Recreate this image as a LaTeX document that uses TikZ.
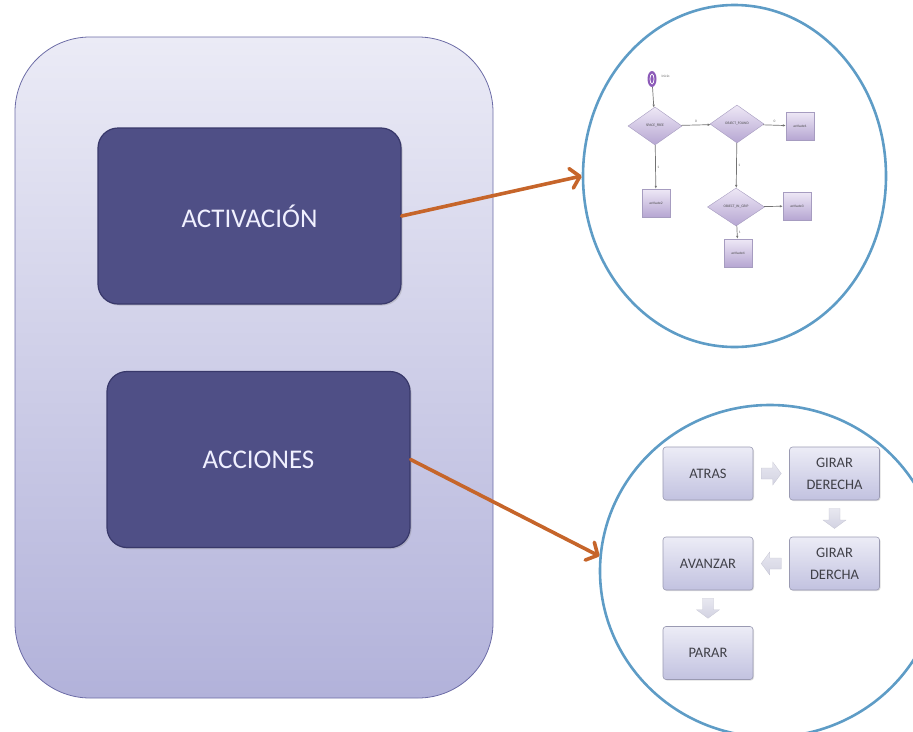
\documentclass[tikz,border=0pt]{standalone}
\usepackage{fontspec}
\setmainfont{Carlito}
\usetikzlibrary{arrows.meta,shapes.geometric,shadows,calc}
\definecolor{outertop}{HTML}{EBEBF6}
\definecolor{outerbot}{HTML}{B2B2DA}
\definecolor{outerline}{HTML}{6C6CA6}
\definecolor{darkbox}{HTML}{4F4F86}
\definecolor{darkline}{HTML}{38386A}
\definecolor{orangearr}{HTML}{C6652A}
\definecolor{circblue}{HTML}{5E9CC6}
\definecolor{lavtop}{HTML}{ECECF6}
\definecolor{lavbot}{HTML}{C2C2E0}
\definecolor{lavline}{HTML}{9A9AB2}
\definecolor{fctop}{HTML}{EEE8F6}
\definecolor{fcbot}{HTML}{B6A6D2}
\definecolor{fcline}{HTML}{A69CC0}
\definecolor{startpur}{HTML}{8C5AB8}
\definecolor{blocktop}{HTML}{E8E8F0}
\definecolor{blockbot}{HTML}{D2D2E2}
\definecolor{txtgray}{HTML}{404048}
\tikzset{
  outerbox/.style={rectangle, rounded corners=75pt, draw=outerline, line width=0.8pt,
    top color=outertop, bottom color=outerbot, minimum width=478pt, minimum height=661pt, inner sep=0pt},
  darkbox/.style={rectangle, rounded corners=20pt, draw=darkline, line width=1.2pt, fill=darkbox,
    minimum width=303pt, minimum height=176pt, inner sep=0pt, text=white!94!blue, font=\fontsize{27}{32}\selectfont,
    drop shadow={shadow xshift=1.5pt, shadow yshift=-1.5pt, opacity=0.3}},
  bigcirc/.style={ellipse, draw=circblue, line width=2.6pt, inner sep=0pt},
  orangearrow/.style={draw=orangearr, line width=3.6pt, line cap=round, line join=round,
    -{Straight Barb[length=9pt,width=20pt,round]}},
  actbox/.style={rectangle, rounded corners=3pt, draw=lavline, line width=0.6pt,
    top color=lavtop, bottom color=lavbot, minimum width=90pt, minimum height=53pt, inner sep=1pt,
    align=center, text=txtgray, font=\fontsize{14.5}{22}\selectfont,
    drop shadow={shadow xshift=1pt, shadow yshift=-1pt, opacity=0.25}},
  blockarrowfill/.style={top color=blocktop, bottom color=blockbot, draw=blockbot!85!gray, line width=0.3pt},
  fcdiamond/.style={diamond, draw=fcline, line width=0.4pt, top color=fctop, bottom color=fcbot,
    minimum width=54pt, minimum height=38pt, inner sep=0pt, font=\fontsize{3.6}{4}\selectfont, text=black!70},
  fcbox/.style={rectangle, draw=fcline, line width=0.4pt, top color=fctop, bottom color=fcbot,
    minimum width=28pt, minimum height=28pt, inner sep=0pt, font=\fontsize{3.6}{4}\selectfont, text=black!70,
    drop shadow={shadow xshift=0.7pt, shadow yshift=-0.7pt, opacity=0.2}},
  fcline/.style={draw=black!55, line width=0.7pt, -{Latex[length=3pt,width=2.5pt]}},
  fclabel/.style={font=\fontsize{3.6}{4}\selectfont, text=black!60, inner sep=0.5pt}
}
\begin{document}
\begin{tikzpicture}[x=1pt,y=-1pt]
\useasboundingbox (0,0) rectangle (913,731);
% main panel
\node[outerbox] (outer) at (254,367.5) {};
\node[darkbox] (act) at (249.5,216) {ACTIVACIÓN};
\node[darkbox] (acc) at (258.5,459.5) {ACCIONES};
% circles
\node[bigcirc, minimum width=303pt, minimum height=342pt] (c1) at (734.5,176) {};
\node[bigcirc, minimum width=340pt, minimum height=332pt] (c2) at (770,571) {};
% arrows
\draw[orangearrow] (act.east) -- (c1.west);
\draw[orangearrow] (acc.east) -- (c2.175);
% small flowchart
\node[ellipse, fill=startpur, minimum width=9pt, minimum height=16pt, inner sep=0pt] (start) at (652,79) {};
\node[ellipse, draw=white, line width=0.7pt, minimum width=4pt, minimum height=10pt, inner sep=0pt] (startin) at (652,79) {};
\node[fclabel, anchor=west] (startlbl) at (661,76) {Inicio};
\node[fcdiamond] (d1) at (655,126) {SPACE\_FREE};
\node[fcdiamond] (d2) at (737,124) {OBJECT\_FOUND};
\node[fcdiamond, minimum width=57pt] (d3) at (736,207) {OBJECT\_IN\_GRIP};
\node[fcbox] (b1) at (800,126) {activate1};
\node[fcbox] (b2) at (656,203) {activate2};
\node[fcbox] (b3) at (797,206) {activate3};
\node[fcbox] (b4) at (738,253) {activate4};
\draw[fcline] (start) -- (d1);
\draw[fcline] (d1) -- node[fclabel, above=2pt] {0} (d2);
\draw[fcline] (d2) -- node[fclabel, above=2pt] {0} (b1);
\draw[fcline] (d1) -- node[fclabel, right=1pt] {1} (b2);
\draw[fcline] (d2) -- node[fclabel, right=1pt] {1} (d3);
\draw[fcline] (d3) -- (b3);
\draw[fcline] (d3) -- node[fclabel, right=1pt] {1} (b4);
% actions flow
\node[actbox] (atras) at (708,473.5) {ATRAS};
\node[actbox] (gd1) at (834.5,473.5) {GIRAR\\DERECHA};
\node[actbox] (gd2) at (834.5,563.5) {GIRAR\\DERCHA};
\node[actbox] (avanzar) at (708,563.5) {AVANZAR};
\node[actbox] (parar) at (708,653) {PARAR};
\coordinate (a1) at ($(atras.east)!0.5!(gd1.west)$);
\coordinate (a2) at ($(gd1.south)!0.5!(gd2.north)$);
\coordinate (a3) at ($(gd2.west)!0.5!(avanzar.east)$);
\coordinate (a4) at ($(avanzar.south)!0.5!(parar.north)$);
\path[blockarrowfill, shift={(a1)}] (-10,-5.5) -- (1.5,-5.5) -- (1.5,-11.5) -- (10,0) -- (1.5,11.5) -- (1.5,5.5) -- (-10,5.5) -- cycle;
\path[blockarrowfill, shift={(a3)}] (10,-5.5) -- (-1.5,-5.5) -- (-1.5,-11.5) -- (-10,0) -- (-1.5,11.5) -- (-1.5,5.5) -- (10,5.5) -- cycle;
\path[blockarrowfill, shift={(a2)}] (-5.5,-10) -- (5.5,-10) -- (5.5,1.5) -- (11.5,1.5) -- (0,10) -- (-11.5,1.5) -- (-5.5,1.5) -- cycle;
\path[blockarrowfill, shift={(a4)}] (-5.5,-10) -- (5.5,-10) -- (5.5,1.5) -- (11.5,1.5) -- (0,10) -- (-11.5,1.5) -- (-5.5,1.5) -- cycle;
\end{tikzpicture}
\end{document}
